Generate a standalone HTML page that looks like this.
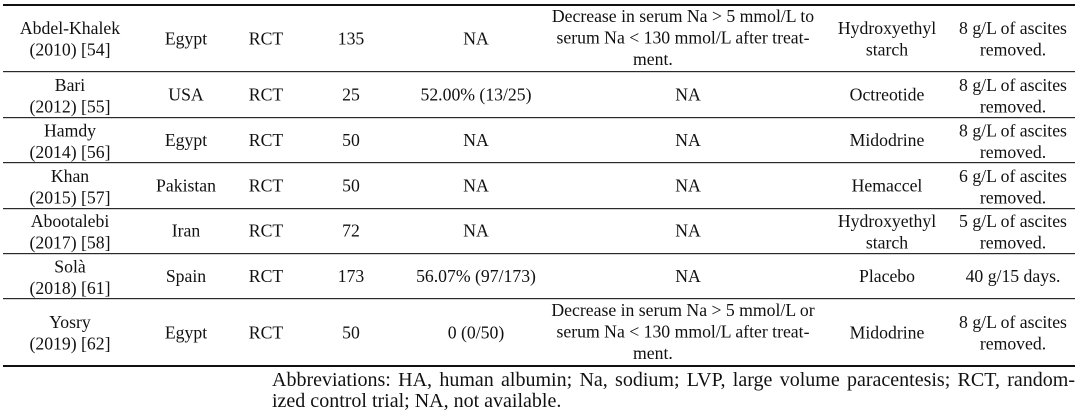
<!DOCTYPE html>
<html>
<head>
<meta charset="utf-8">
<style>
  html,body{margin:0;padding:0;background:#fff;}
  body{width:1080px;height:413px;overflow:hidden;position:relative;}
  svg{position:absolute;left:0;top:0;}
  .fn{position:absolute;left:272px;width:803px;font-family:"Liberation Serif",serif;font-size:20px;line-height:21.5px;color:#111;white-space:nowrap;}
  .j{text-align:justify;text-align-last:justify;white-space:normal;}
</style>
</head>
<body>
<svg width="1080" height="413" viewBox="0 0 1080 413" font-family="Liberation Serif, serif" font-size="17.7" fill="#111" text-anchor="middle">
  <!-- rules -->
  <rect x="3" y="4" width="1072" height="2" fill="#111"/>
  <rect x="3" y="71" width="1072" height="1.2" fill="#2a2a2a"/>
  <rect x="3" y="117" width="1072" height="1.2" fill="#2a2a2a"/>
  <rect x="3" y="162" width="1072" height="1.2" fill="#2a2a2a"/>
  <rect x="3" y="208" width="1072" height="1.2" fill="#2a2a2a"/>
  <rect x="3" y="253" width="1072" height="1.2" fill="#2a2a2a"/>
  <rect x="3" y="298" width="1072" height="1.2" fill="#2a2a2a"/>
  <rect x="3" y="365" width="1072" height="2" fill="#111"/>

  <!-- Row 1 (c=38.25) -->
  <text x="70" y="34">Abdel-Khalek</text>
  <text x="70" y="55.5">(2010) [54]</text>
  <text x="186" y="44.25">Egypt</text>
  <text x="266" y="44.25">RCT</text>
  <text x="351" y="44.25">135</text>
  <text x="476" y="44.25">NA</text>
  <text x="683" y="21.75">Decrease in serum Na &gt; 5 mmol/L to</text>
  <text x="683" y="43.25">serum Na &lt; 130 mmol/L after treat-</text>
  <text x="633" y="64.75" text-anchor="start">ment.</text>
  <text x="887" y="34">Hydroxyethyl</text>
  <text x="887" y="55.5">starch</text>
  <text x="1013" y="34">8 g/L of ascites</text>
  <text x="1013" y="55.5">removed.</text>

  <!-- Row 2 (c=94.25) -->
  <text x="70" y="90.75">Bari</text>
  <text x="70" y="112.25">(2012) [55]</text>
  <text x="186" y="100.25">USA</text>
  <text x="266" y="100.25">RCT</text>
  <text x="351" y="100.25">25</text>
  <text x="476" y="100.25">52.00% (13/25)</text>
  <text x="688" y="100.25">NA</text>
  <text x="887" y="100.25">Octreotide</text>
  <text x="1013" y="90.75">8 g/L of ascites</text>
  <text x="1013" y="112.25">removed.</text>

  <!-- Row 3 (c=139.75) -->
  <text x="70" y="136.25">Hamdy</text>
  <text x="70" y="157.75">(2014) [56]</text>
  <text x="186" y="145.75">Egypt</text>
  <text x="266" y="145.75">RCT</text>
  <text x="351" y="145.75">50</text>
  <text x="476" y="145.75">NA</text>
  <text x="688" y="145.75">NA</text>
  <text x="887" y="145.75">Midodrine</text>
  <text x="1013" y="136.25">8 g/L of ascites</text>
  <text x="1013" y="157.75">removed.</text>

  <!-- Row 4 (c=185.25) -->
  <text x="70" y="181.75">Khan</text>
  <text x="70" y="203.25">(2015) [57]</text>
  <text x="186" y="191.25">Pakistan</text>
  <text x="266" y="191.25">RCT</text>
  <text x="351" y="191.25">50</text>
  <text x="476" y="191.25">NA</text>
  <text x="688" y="191.25">NA</text>
  <text x="887" y="191.25">Hemaccel</text>
  <text x="1013" y="181.75">6 g/L of ascites</text>
  <text x="1013" y="203.25">removed.</text>

  <!-- Row 5 (c=230.5) -->
  <text x="70" y="227">Abootalebi</text>
  <text x="70" y="248.5">(2017) [58]</text>
  <text x="186" y="236.5">Iran</text>
  <text x="266" y="236.5">RCT</text>
  <text x="351" y="236.5">72</text>
  <text x="476" y="236.5">NA</text>
  <text x="688" y="236.5">NA</text>
  <text x="887" y="227">Hydroxyethyl</text>
  <text x="887" y="248.5">starch</text>
  <text x="1013" y="227">5 g/L of ascites</text>
  <text x="1013" y="248.5">removed.</text>

  <!-- Row 6 (c=275.75) -->
  <text x="70" y="272.25">Solà</text>
  <text x="70" y="293.75">(2018) [61]</text>
  <text x="186" y="281.75">Spain</text>
  <text x="266" y="281.75">RCT</text>
  <text x="351" y="281.75">173</text>
  <text x="476" y="281.75">56.07% (97/173)</text>
  <text x="688" y="281.75">NA</text>
  <text x="887" y="281.75">Placebo</text>
  <text x="1013" y="281.75">40 g/15 days.</text>

  <!-- Row 7 (c=332.25) -->
  <text x="70" y="327.75">Yosry</text>
  <text x="70" y="349.25">(2019) [62]</text>
  <text x="186" y="338.25">Egypt</text>
  <text x="266" y="338.25">RCT</text>
  <text x="351" y="338.25">50</text>
  <text x="476" y="338.25">0 (0/50)</text>
  <text x="683" y="315.75">Decrease in serum Na &gt; 5 mmol/L or</text>
  <text x="683" y="337.25">serum Na &lt; 130 mmol/L after treat-</text>
  <text x="633" y="358.75" text-anchor="start">ment.</text>
  <text x="887" y="338.25">Midodrine</text>
  <text x="1013" y="327.75">8 g/L of ascites</text>
  <text x="1013" y="349.25">removed.</text>
</svg>

<div class="fn j" style="top:369.5px;">Abbreviations: HA, human albumin; Na, sodium; LVP, large volume paracentesis; RCT, random-</div>
<div class="fn" style="top:391px;">ized control trial; NA, not available.</div>
</body>
</html>
